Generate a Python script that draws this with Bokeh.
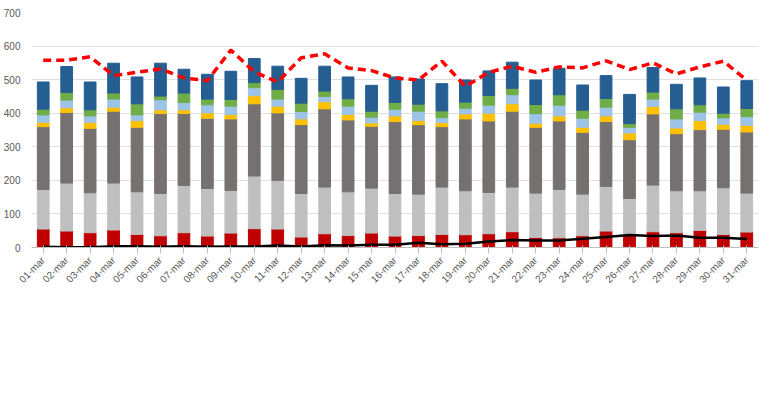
from bokeh.plotting import figure
from bokeh.models import Legend, LegendItem, ColumnDataSource, FixedTicker
from bokeh.embed import file_html
from bokeh.resources import INLINE
from math import pi

days = [f"{i:02d}-mar" for i in range(1, 32)]
resp = [55,49,44,52,39,35,44,34,43,56,55,31,41,36,43,34,36,39,38,41,47,30,29,35,49,36,47,44,51,39,46]
tumori = [118,143,119,140,127,126,141,142,127,157,145,130,139,130,134,127,123,141,131,123,133,132,144,124,133,110,139,125,118,139,116]
circ = [187,210,192,214,192,238,214,209,213,215,201,205,233,214,184,214,207,180,214,213,226,196,204,184,193,175,212,170,182,174,182]
dig = [13,14,18,12,20,11,11,16,13,24,20,17,21,16,10,17,12,12,15,23,22,12,15,15,17,20,22,17,27,15,20]
diab = [22,23,19,24,17,30,22,24,25,24,21,22,16,25,17,20,28,15,17,24,27,29,32,27,26,17,22,27,25,19,26]
alz = [17,23,18,18,33,11,28,17,20,15,29,25,16,22,18,20,21,20,18,29,19,27,31,24,26,11,21,30,22,14,24]
altre = [81,77,83,89,80,98,71,74,84,72,69,74,74,65,77,76,75,81,66,73,78,73,79,75,68,87,73,73,80,78,83]
tot2020 = [558,558,568,512,522,532,505,497,588,523,493,565,577,535,527,505,499,555,480,522,540,522,538,535,556,530,550,517,538,555,498]
covid = [2,1,1,4,4,2,4,2,3,3,6,3,7,6,8,8,14,10,11,18,22,21,21,26,31,37,34,36,29,29,25]

keys = ["resp","tumori","circ","dig","diab","alz","altre"]
labels = ["Malattie del sistema respiratorio (2017)","Tumori (2017)",
          "Malattie del sistema circolatorio (2017)","Malattie dell'apparato digerente (2017)",
          "Diabete (2017)","Demenza e malattia di Alzheimer (2017)","Altre cause (2017)"]
colors = ["#C00000","#BFBFBF","#767171","#FFC000","#9DC3E6","#70AD47","#255E91"]

src = ColumnDataSource(dict(days=days, resp=resp, tumori=tumori, circ=circ, dig=dig,
                            diab=diab, alz=alz, altre=altre, tot=tot2020, covid=covid))

p = figure(x_range=days, y_range=(0, 700), frame_width=727, frame_height=235,
           output_backend="svg", toolbar_location=None,
           min_border_left=8, min_border_right=14, min_border_top=12, min_border_bottom=0)
p.outline_line_color = None
rs = p.vbar_stack(keys, x="days", width=0.5, color=colors, source=src)
l1 = p.line("days", "tot", source=src, color="#FF0000", line_width=3.5, line_dash="8 5")
l2 = p.line("days", "covid", source=src, color="black", line_width=2.5)

p.yaxis.ticker = FixedTicker(ticks=list(range(0, 701, 100)))
p.xgrid.grid_line_color = None
p.ygrid.grid_line_color = "#E0E0E0"
p.yaxis.axis_line_color = None
p.yaxis.major_tick_line_color = None
p.yaxis.minor_tick_line_color = None
p.xaxis.axis_line_color = "#BFBFBF"
p.xaxis.major_tick_line_color = "#BFBFBF"
p.xaxis.major_label_orientation = pi/4
for ax in (p.xaxis, p.yaxis):
    ax.major_label_text_color = "#595959"
    ax.major_label_text_font = "Liberation Sans"
    ax.major_label_text_font_size = "10px"

it = [LegendItem(label=labels[i], renderers=[rs[i]]) for i in range(7)]
tot_item = LegendItem(label="Decessi Totali 2020", renderers=[l1])
cov_item = LegendItem(label="Decessi con COVID-19 (2020)", renderers=[l2])
items = [it[0], it[2], it[4], it[6], cov_item, it[1], it[3], it[5], tot_item]
leg = Legend(items=items, ncols=2, location="center", border_line_color=None,
             label_text_font="Liberation Sans", label_text_font_size="10.5px",
             label_text_color="#404040", glyph_width=32, glyph_height=9,
             spacing=2, label_height=12, padding=2, margin=4, label_standoff=4)
p.add_layout(leg, "below")

open("out.html", "w").write(file_html(p, INLINE))
